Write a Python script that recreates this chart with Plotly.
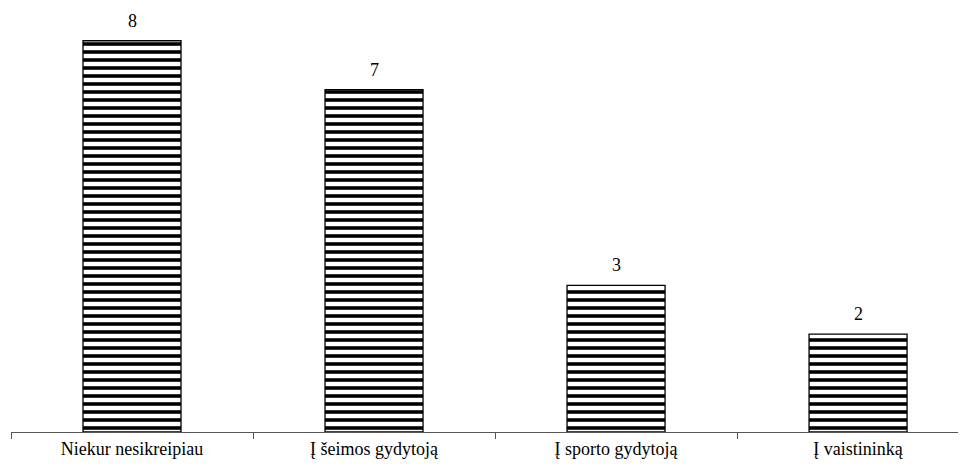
import plotly.graph_objects as go

categories = ["Niekur nesikreipiau", "Į šeimos gydytoją", "Į sporto gydytoją", "Į vaistininką"]
values = [8, 7, 3, 2]
value_labels = ["8", "7", "3", "2"]

FONT = "Liberation Serif, Times New Roman, serif"

fig = go.Figure()
fig.add_trace(go.Bar(
    x=categories,
    y=values,
    width=0.405,
    marker=dict(
        color="white",
        line=dict(color="black", width=1.3),
        pattern=dict(shape="-", fgcolor="black", fgopacity=1, bgcolor="white", size=8, solidity=0.45),
    ),
    showlegend=False,
    hoverinfo="skip",
))

for c, v, t in zip(categories, values, value_labels):
    fig.add_annotation(x=c, y=v, text=t, showarrow=False, yanchor="bottom", yshift=8,
                       font=dict(family=FONT, size=18, color="black"))

# page body has an 8px margin: figure is sized so its plot area lands where the reference's does
fig.update_layout(
    width=958, height=465,
    margin=dict(l=3, r=0, t=0, b=41),
    paper_bgcolor="white", plot_bgcolor="white",
    font=dict(family=FONT, size=18, color="black"),
    xaxis=dict(
        type="category",
        range=[-0.5, 3.446],
        showline=True, linecolor="#555", linewidth=1,
        ticks="outside", ticklen=6, tickcolor="#555", tickwidth=1,
        tickson="boundaries",
        showgrid=False, zeroline=False,
        tickfont=dict(family=FONT, size=18, color="black"),
    ),
    yaxis=dict(range=[0, 8.67], visible=False, showgrid=False, zeroline=False),
)

fig.write_html("out.html")
